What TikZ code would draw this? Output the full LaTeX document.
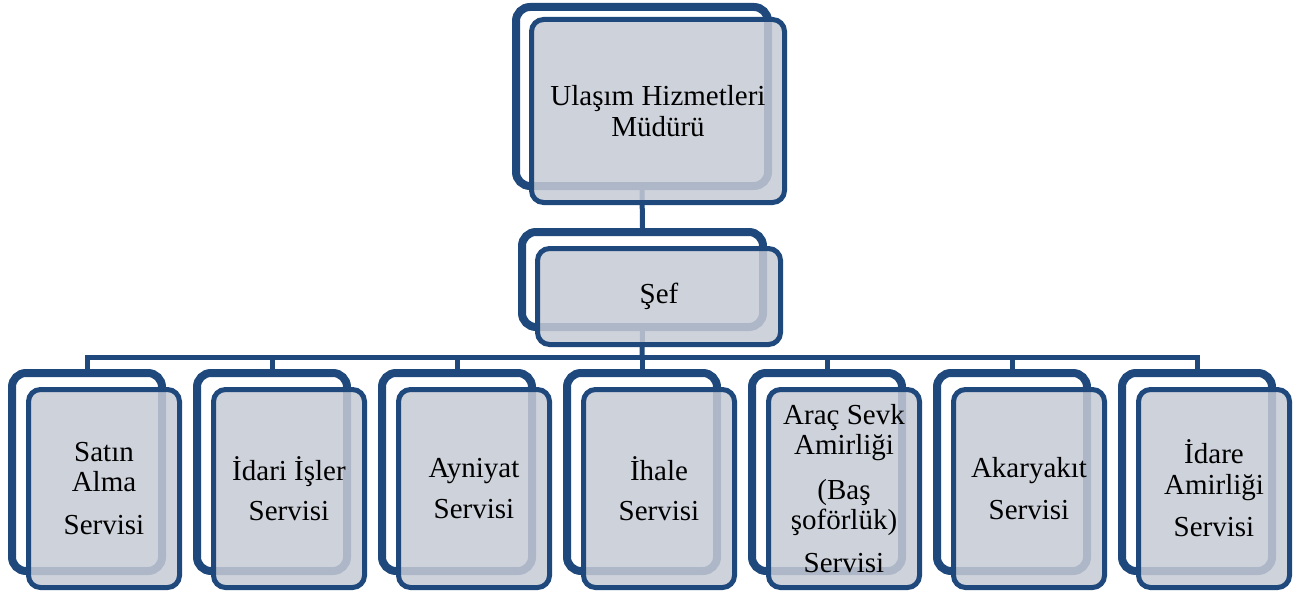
\documentclass[tikz,border=0pt]{standalone}
\usepackage{fontspec}
\setmainfont{Liberation Serif}
\usetikzlibrary{shadows}

\definecolor{boxline}{HTML}{1F497D}
\definecolor{boxfill}{HTML}{C6CBD5}

\begin{document}
\begin{tikzpicture}[x=1pt,y=-1pt,
        back/.style={
            rectangle,
            draw=boxline,
            line width=8pt,
            rounded corners=14pt,
            fill=white,
            drop shadow={shadow xshift=-3pt,shadow yshift=-3pt,opacity=0.2}
        },
        front/.style={
            rectangle,
            draw=boxline,
            line width=5pt,
            rounded corners=12pt,
            fill=boxfill,
            fill opacity=0.85,
            text opacity=1,
            inner sep=0pt,
            align=center,
            font=\fontsize{29}{30.5}\selectfont
        },
        link/.style={
            draw=boxline,
            line width=5pt
        }
    ]

        \useasboundingbox (0,0) rectangle (1307,594);

        % back boxes
        \node[back, minimum width=252pt, minimum height=179pt] (mudur) at (642,96.5) {};
        \node[back, minimum width=241pt, minimum height=95pt] (sef) at (642.5,279.5) {};
        \foreach \i in {1,...,7} {
            \node[back, minimum width=150pt, minimum height=198pt] (s\i) at ({87+185*(\i-1)},472) {};
        }

        % connectors
        \coordinate (bus) at (642,357);
        \draw[link] (mudur.south) -- (sef.north);
        \draw[link] (sef.south) -- (bus);
        \foreach \i in {1,...,7} {
            \draw[link] (bus) -| (s\i.north);
        }

        % front boxes
        \node[front, minimum width=253pt, minimum height=183pt] (mudur-f) at (658,111) {Ulaşım Hizmetleri\\Müdürü};
        \node[front, minimum width=243pt, minimum height=96pt] (sef-f) at (659,296.5) {Şef};
        \foreach \lbl [count=\i] in {
            {Satın\\Alma\\[12pt]Servisi},
            {İdari İşler\\[10pt]Servisi},
            {Ayniyat\\[10pt]Servisi},
            {İhale\\[10pt]Servisi},
            {Araç Sevk\\Amirliği\\[14pt](Baş\\şoförlük)\\[12pt]Servisi},
            {Akaryakıt\\[12pt]Servisi},
            {İdare\\Amirliği\\[12pt]Servisi}} {
            \node[front, minimum width=151pt, minimum height=198pt] (f\i) at ({104+185*(\i-1)},488.5) {\lbl};
        }

    \end{tikzpicture}
\end{document}
